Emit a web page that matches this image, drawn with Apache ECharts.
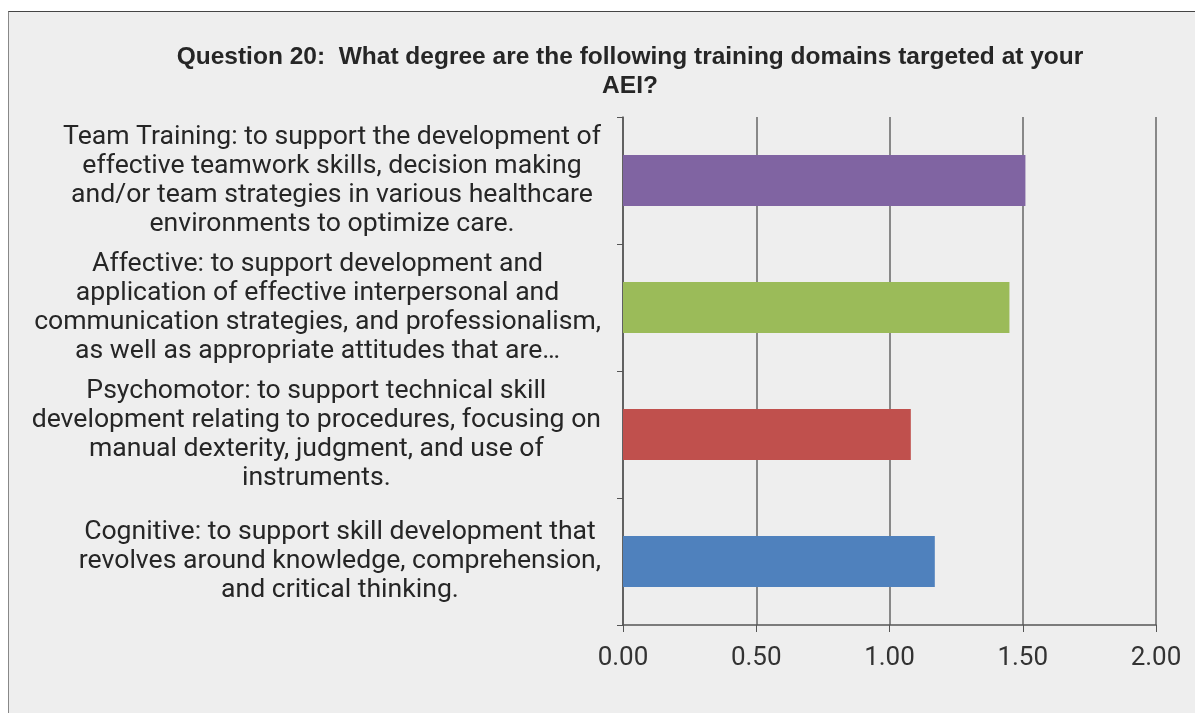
<!DOCTYPE html>
<html>
<head>
<meta charset="utf-8">
<script src="https://cdn.jsdelivr.net/npm/echarts@6/dist/echarts.min.js"></script>
<style>
  html, body { margin: 0; padding: 0; background: #fff; }
  #frame {
    position: absolute; left: 8px; top: 11px; right: 0; bottom: 0;
    background: #EEEEEE;
    border-top: 1px solid #444;
    border-left: 1px solid #888;
  }
  #chart { position: absolute; left: 0; top: 0; width: 1195px; height: 713px; }
</style>
</head>
<body>
<div id="frame"></div>
<div id="chart"></div>
<script>
// categories, bottom to top
const categories = [
  'Cognitive: to support skill development that\nrevolves around knowledge, comprehension,\nand critical thinking.',
  'Psychomotor: to support technical skill\ndevelopment relating to procedures, focusing on\nmanual dexterity, judgment, and use of\ninstruments.',
  'Affective: to support development and\napplication of effective interpersonal and\ncommunication strategies, and professionalism,\nas well as appropriate attitudes that are…',
  'Team Training: to support the development of\neffective teamwork skills, decision making\nand/or team strategies in various healthcare\nenvironments to optimize care.'
];
const values = [1.17, 1.08, 1.45, 1.51];
const barColors = ['#4F81BD', '#C0504D', '#9BBB59', '#8064A2'];

const titleLines = [
  'Question 20:  What degree are the following training domains targeted at your',
  'AEI?'
];

let chart = echarts.init(document.getElementById('chart'));

let option = {
  backgroundColor: 'transparent',
  animation: false,
  graphic: [
    {
      type: 'text',
      x: 630,
      y: 43,
      style: {
        text: titleLines.join('\n'),
        align: 'center',
        verticalAlign: 'top',
        fill: '#262626',
        font: 'bold 24.5px "Liberation Sans", Arial, sans-serif',
        lineHeight: 29
      }
    }
  ],
  grid: {
    left: 623,
    right: 39,
    top: 117,
    bottom: 88
  },
  xAxis: {
    type: 'value',
    min: 0,
    max: 2,
    interval: 0.5,
    axisLine: { show: true, lineStyle: { color: '#555', width: 1.5 } },
    axisTick: { show: true, length: 7, lineStyle: { color: '#555' } },
    splitLine: { show: true, lineStyle: { color: '#666', width: 1.5 } },
    axisLabel: {
      color: '#333',
      fontFamily: 'Roboto',
      fontSize: 26,
      margin: 20,
      formatter: v => v.toFixed(2)
    }
  },
  yAxis: {
    type: 'category',
    data: categories,
    axisLine: { show: true, lineStyle: { color: '#555', width: 1.5 } },
    axisTick: { show: true, length: 6, lineStyle: { color: '#555' } },
    axisLabel: {
      margin: 22,
      align: 'right',
      formatter: v => v.split('\n').map(s => '{a|' + s + '}').join('\n'),
      rich: {
        a: {
          align: 'center',
          color: '#262626',
          fontFamily: 'Roboto',
          fontSize: 26.6,
          lineHeight: 29
        }
      }
    }
  },
  series: [
    {
      type: 'bar',
      data: values.map((v, i) => ({ value: v, itemStyle: { color: barColors[i] } })),
      barWidth: '40%'
    }
  ]
};

chart.setOption(option);
</script>
</body>
</html>
